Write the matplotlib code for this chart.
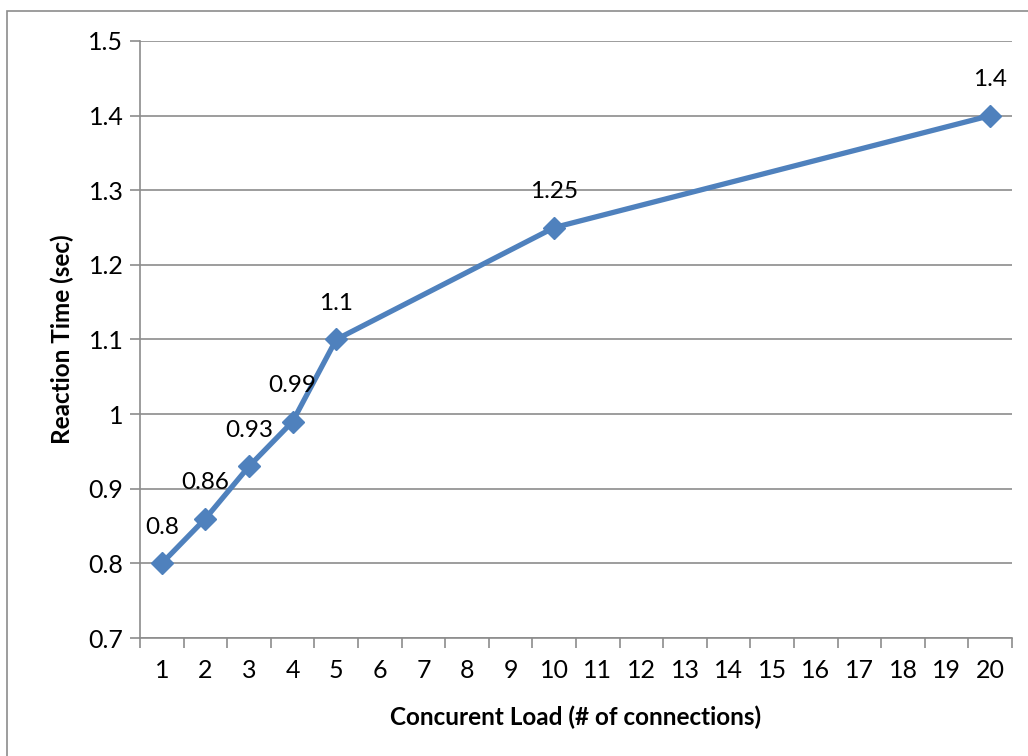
import matplotlib.pyplot as plt
from matplotlib.patches import Rectangle

plt.rcParams['font.family'] = ['Lato', 'DejaVu Sans']

load = [1, 2, 3, 4, 5, 10, 20]
reaction = [0.8, 0.86, 0.93, 0.99, 1.1, 1.25, 1.4]
x_ticks = list(range(1, 21))
y_ticks = [0.7, 0.8, 0.9, 1.0, 1.1, 1.2, 1.3, 1.4, 1.5]
y_tick_labels = ['0.7', '0.8', '0.9', '1', '1.1', '1.2', '1.3', '1.4', '1.5']

fig = plt.figure(figsize=(10.28, 7.56), dpi=100)
# chart frame around everything
fig.patches.append(Rectangle((7 / 1028, -0.1), 1.2, 1 - 11 / 756 + 0.1,
                             transform=fig.transFigure, fill=False,
                             edgecolor='#8c8c8c', linewidth=1.2))

ax = fig.add_axes([140 / 1028, 1 - 638 / 756, 872 / 1028, 597 / 756])
ax.set_xlim(0.5, 20.5)
ax.set_ylim(0.7, 1.5)

ax.plot(load, reaction, color='#4f81bd', linewidth=3.8, marker='D',
        markersize=11, zorder=3)
for x, y in zip(load, reaction):
    ax.annotate(f'{y:g}', (x, y), xytext=(0, 26), textcoords='offset points',
                ha='center', va='center', fontsize=17.5)

ax.set_yticks(y_ticks)
ax.set_yticklabels(y_tick_labels)
ax.set_xticks(x_ticks)
ax.set_xticklabels([str(t) for t in x_ticks])
ax.set_xticks([t + 0.5 for t in range(0, 21)], minor=True)
ax.tick_params(axis='x', which='major', length=0, pad=15, labelsize=18)
ax.tick_params(axis='x', which='minor', length=7, width=1.2, color='#8c8c8c')
ax.tick_params(axis='y', length=7, width=1.2, color='#8c8c8c', pad=5,
               labelsize=18)

ax.grid(axis='y', color='#8c8c8c', linewidth=1.2)
ax.set_axisbelow(True)
for side in ['top', 'right']:
    ax.spines[side].set_visible(False)
for side in ['left', 'bottom']:
    ax.spines[side].set_color('#8c8c8c')
    ax.spines[side].set_linewidth(1.2)

ax.set_xlabel('Concurent Load (# of connections)', fontsize=17.5,
              fontweight='bold', labelpad=17)
ax.set_ylabel('Reaction Time (sec)', fontsize=17.5, fontweight='bold',
              labelpad=10)

fig.savefig('out.png', dpi=100)
